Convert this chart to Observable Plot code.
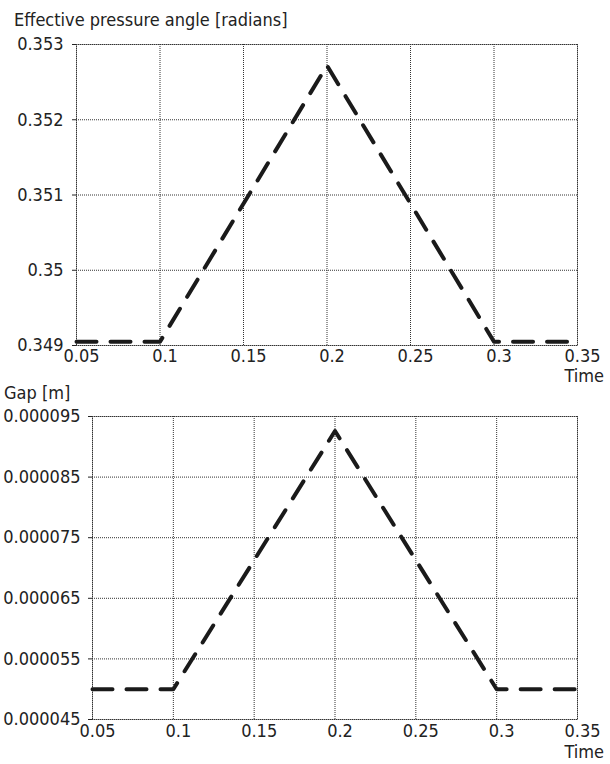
<!DOCTYPE html>
<html><head><meta charset="utf-8">
<script src="https://cdn.jsdelivr.net/npm/d3@7"></script>
<script src="https://cdn.jsdelivr.net/npm/@observablehq/plot@0.6"></script>
<style>
body{margin:0;background:#fff;font-family:"DejaVu Sans Condensed","DejaVu Sans",sans-serif;}
#wrap{position:relative;width:610px;height:764px;overflow:hidden;}
#wrap svg{position:absolute;left:0;}
.lbl{position:absolute;font-size:18px;line-height:18px;color:#222;white-space:nowrap;}
</style></head><body><div id="wrap"></div>
<script>
const time = [0.05, 0.1, 0.2, 0.3, 0.35];
const angle = [0.34905, 0.34905, 0.35272, 0.34905, 0.34905];
const gap = [0.00005, 0.00005, 0.0000926, 0.00005, 0.00005];
const xTicks = [0.05, 0.1, 0.15, 0.2, 0.25, 0.3, 0.35];
const angleTicks = [0.349, 0.35, 0.351, 0.352, 0.353];
const gapTicks = [0.000045, 0.000055, 0.000065, 0.000075, 0.000085, 0.000095];
const titles = ["Effective pressure angle [radians]", "Gap [m]"];
const xLabel = "Time";

function panel(ys, yTicks, fmt, o) {
  const data = time.map((t, i) => ({t, v: ys[i]}));
  const grid = {stroke: "#333", strokeOpacity: 1, strokeWidth: 1, strokeDasharray: "1,1"};
  return Plot.plot({
    width: 610, height: o.h, marginTop: o.mt, marginBottom: o.mb, marginLeft: o.ml, marginRight: 33,
    style: {fontFamily: '"DejaVu Sans Condensed","DejaVu Sans",sans-serif', fontSize: "18px", color: "#222", background: "transparent", overflow: "visible"},
    x: {domain: [0.05, 0.35]},
    y: {domain: [yTicks[0], yTicks[yTicks.length - 1]]},
    marks: [
      Plot.gridX(xTicks, grid),
      Plot.gridY(yTicks, grid),
      Plot.frame({stroke: "#333", strokeDasharray: "1,1"}),
      Plot.axisX({ticks: xTicks, tickFormat: d => String(+d.toFixed(2)), tickSize: 0, tickPadding: o.xpad, dx: 5, label: null}),
      Plot.axisY({ticks: yTicks, tickFormat: fmt, tickSize: 4, tickPadding: o.ypad, label: null}),
      Plot.line(data, {x: "t", y: "v", stroke: "#1a1a1a", strokeWidth: 4, strokeDasharray: "20,14", strokeLinecap: "round"})
    ]
  });
}

const wrap = document.getElementById("wrap");
const p1 = panel(angle, angleTicks, d => String(+d.toFixed(3)), {h: 390, mt: 44, mb: 45, ml: 76, xpad: 4, ypad: 9});
p1.style.top = "0px";
wrap.appendChild(p1);
const p2 = panel(gap, gapTicks, d => d.toFixed(6), {h: 374, mt: 26, mb: 45, ml: 92, xpad: 5, ypad: 8});
p2.style.top = "390px";
wrap.appendChild(p2);

function lbl(text, style) {
  const d = document.createElement("div");
  d.className = "lbl";
  d.textContent = text;
  Object.assign(d.style, style);
  wrap.appendChild(d);
}
lbl(titles[0], {left: "14px", top: "11px"});
lbl(titles[1], {left: "4px", top: "384px"});
lbl(xLabel, {right: "6px", top: "367px"});
lbl(xLabel, {right: "6px", top: "743px"});
</script></body></html>
